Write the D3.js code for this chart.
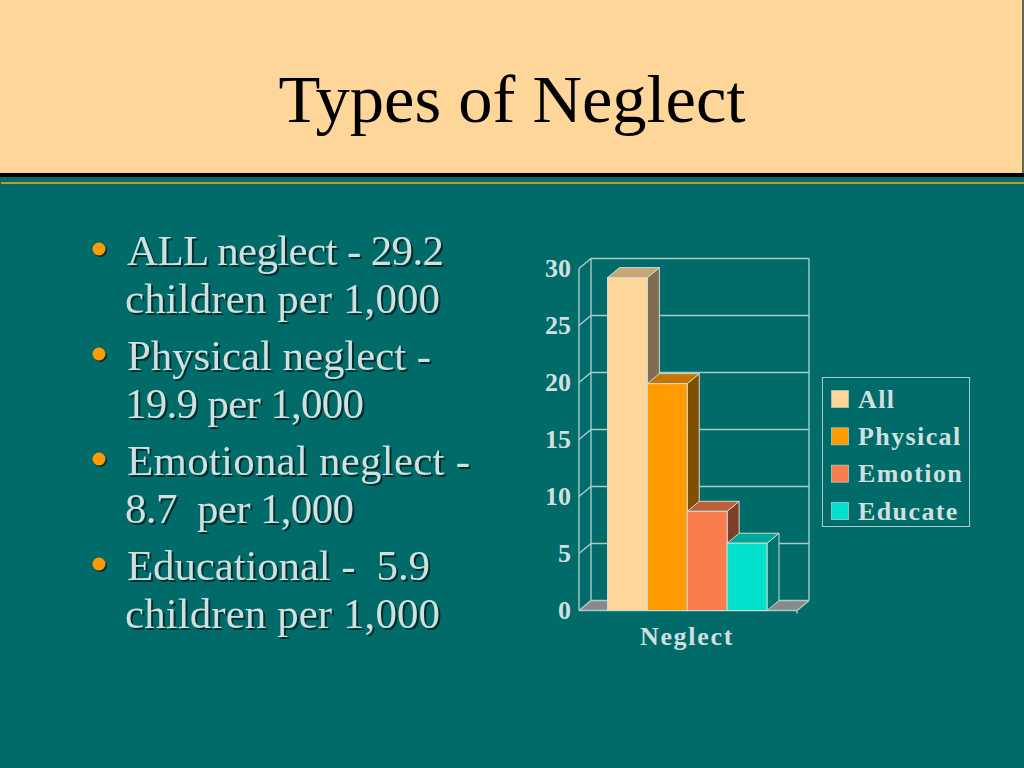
<!DOCTYPE html>
<html>
<head>
<meta charset="utf-8">
<title>Types of Neglect</title>
<script src="https://cdn.jsdelivr.net/npm/d3@7"></script>
<style>
    html, body { margin: 0; padding: 0; background: #006b68; }
    svg { display: block; }
    text { font-family: "Liberation Serif", serif; }
</style>
</head>
<body>
<svg id="slide" width="1024" height="768"></svg>
<script>
    'use strict';

    var titleText = 'Types of Neglect';
    var categories = ['All', 'Physical', 'Emotion', 'Educate'];
    var values = [29.2, 19.9, 8.7, 5.9];
    var yTicks = [0, 5, 10, 15, 20, 25, 30];
    var groupLabel = 'Neglect';
    var bullets = [
        ['ALL neglect - 29.2', 'children per 1,000'],
        ['Physical neglect -', '19.9 per 1,000'],
        ['Emotional neglect -', '8.7  per 1,000'],
        ['Educational -  5.9', 'children per 1,000']
    ];

    // the reference font is wider in places, so each bullet line gets its measured width
    var BULLET_WIDTHS = [[317, 315], [304, 239], [343, 229], [303, 315]];
    var COLORS = {
        front: ['#ffd699', '#ff9b00', '#f97c4c', '#00e0cc'],
        top: ['#c7a673', '#c47700', '#bf5f3a', '#00a896'],
        side: ['#806c4f', '#805000', '#7f3f26', '#00736a']
    };
    var GRID = '#a9cac8';
    var LABEL = '#d0dfdf';
    var DEPTH = { x: 12, y: -10 };

    var svg = d3.select('#slide');

    function renderBackground() {
        svg.append('rect').attr('width', 1024).attr('height', 768).attr('fill', '#006b68');
        svg.append('rect').attr('width', 1024).attr('height', 173).attr('fill', '#ffd699');
        svg.append('rect').attr('x', 1022).attr('width', 2).attr('height', 173).attr('fill', '#5a6a55');
        svg.append('rect').attr('y', 173).attr('width', 1024).attr('height', 4).attr('fill', '#000');
        svg.append('rect').attr('x', 1).attr('y', 182).attr('width', 1023).attr('height', 2).attr('fill', '#c49a22');
    }

    function renderTitle() {
        svg.append('text')
            .attr('x', 512)
            .attr('y', 122)
            .attr('text-anchor', 'middle')
            .attr('font-size', 68.5)
            .attr('fill', '#000')
            .text(titleText);
    }

    function renderBullets() {
        var group = svg.append('g');
        var lineY = 265;
        bullets.forEach(function (lines, i) {
            var y = lineY + i * 105;
            group.append('circle')
                .attr('cx', 100.5).attr('cy', y - 14.5).attr('r', 6.5)
                .attr('fill', '#00302e');
            group.append('circle')
                .attr('cx', 99).attr('cy', y - 16).attr('r', 6.5)
                .attr('fill', '#ff9b00');
            lines.forEach(function (line, j) {
                group.append('text')
                    .attr('x', j === 0 ? 127 : 125)
                    .attr('y', y + j * 48)
                    .attr('font-size', 43)
                    .attr('fill', LABEL)
                    .attr('textLength', BULLET_WIDTHS[i][j])
                    .attr('lengthAdjust', 'spacing')
                    .style('white-space', 'pre')
                    .style('filter', 'drop-shadow(2px 2px 0.5px #00302e)')
                    .text(line);
            });
        });
    }

    function renderChart() {
        var y = d3.scaleLinear().domain([0, 30]).range([610.5, 268.5]);
        var x = d3.scaleBand().domain(categories).range([607.5, 767]).paddingInner(0);
        var xLeft = 579;
        var xRight = 797;
        var chart = svg.append('g');

        // floor
        chart.append('path')
            .attr('d', d3.line()([
                [xLeft, y(0)], [xLeft + DEPTH.x, y(0) + DEPTH.y],
                [xRight + DEPTH.x, y(0) + DEPTH.y], [xRight, y(0)]
            ]) + 'Z')
            .attr('fill', '#8a8a8a');

        // grid: back wall plus left side wall
        chart.selectAll('.grid').data(yTicks).enter().append('path')
            .attr('d', function (d) {
                return d3.line()([
                    [xLeft, y(d)], [xLeft + DEPTH.x, y(d) + DEPTH.y], [xRight + DEPTH.x, y(d) + DEPTH.y]
                ]);
            })
            .attr('fill', 'none')
            .attr('stroke', GRID)
            .attr('stroke-width', 1.4);
        chart.append('line')
            .attr('x1', xLeft).attr('x2', xLeft).attr('y1', y(0)).attr('y2', y(30))
            .attr('stroke', GRID).attr('stroke-width', 1.4);
        chart.append('line')
            .attr('x1', xLeft + DEPTH.x).attr('x2', xLeft + DEPTH.x)
            .attr('y1', y(0) + DEPTH.y).attr('y2', y(30) + DEPTH.y)
            .attr('stroke', GRID).attr('stroke-width', 1.4);
        chart.append('line')
            .attr('x1', xRight + DEPTH.x).attr('x2', xRight + DEPTH.x)
            .attr('y1', y(0) + DEPTH.y).attr('y2', y(30) + DEPTH.y)
            .attr('stroke', GRID).attr('stroke-width', 1.4);
        chart.append('path')
            .attr('d', d3.line()([[xLeft, y(0)], [xRight, y(0)], [xRight + DEPTH.x, y(0) + DEPTH.y]]))
            .attr('fill', 'none').attr('stroke', GRID).attr('stroke-width', 1.4);
        chart.append('line')
            .attr('x1', xRight).attr('x2', xRight).attr('y1', y(0)).attr('y2', y(0) + 3)
            .attr('stroke', GRID).attr('stroke-width', 1.4);

        // each bar is drawn after the one before it, left to right
        var bars = chart.selectAll('.bar').data(values).enter().append('g')
            .attr('stroke', '#c9dcd8')
            .attr('stroke-width', 1);
        bars.each(function (d, i) {
            var bar = d3.select(this);
            var left = x(categories[i]);
            var right = left + x.bandwidth();
            var top = y(d);
            var bottom = y(0);
            bar.append('path')
                .attr('d', d3.line()([
                    [right, bottom], [right + DEPTH.x, bottom + DEPTH.y],
                    [right + DEPTH.x, top + DEPTH.y], [right, top]
                ]) + 'Z')
                .attr('fill', COLORS.side[i]);
            bar.append('path')
                .attr('d', d3.line()([
                    [left, top], [left + DEPTH.x, top + DEPTH.y],
                    [right + DEPTH.x, top + DEPTH.y], [right, top]
                ]) + 'Z')
                .attr('fill', COLORS.top[i]);
            bar.append('rect')
                .attr('x', left).attr('y', top)
                .attr('width', right - left).attr('height', bottom - top)
                .attr('fill', COLORS.front[i]);
        });

        // value axis labels
        var axis = chart.append('g')
            .attr('transform', 'translate(' + xLeft + ',0)')
            .call(d3.axisLeft(y).tickValues(yTicks).tickSize(0).tickPadding(8));
        axis.select('.domain').remove();
        axis.selectAll('text')
            .attr('font-family', '"Liberation Serif", serif')
            .attr('font-weight', 'bold')
            .attr('font-size', 26)
            .attr('fill', LABEL)
            .attr('dy', '0.3em');

        chart.append('text')
            .attr('x', (xLeft + xRight) / 2 - 1)
            .attr('y', 645)
            .attr('text-anchor', 'middle')
            .attr('font-size', 26)
            .attr('font-weight', 'bold')
            .attr('letter-spacing', 1.7)
            .attr('fill', LABEL)
            .text(groupLabel);
    }

    function renderLegend() {
        var legend = svg.append('g');
        var rowY = d3.scalePoint().domain(categories).range([399, 511]);
        legend.append('rect')
            .attr('x', 822.5).attr('y', 377.5)
            .attr('width', 147).attr('height', 149)
            .attr('fill', 'none')
            .attr('stroke', GRID)
            .attr('stroke-width', 1);
        var rows = legend.selectAll('.row').data(categories).enter().append('g')
            .attr('transform', function (d) { return 'translate(0,' + rowY(d) + ')'; });
        rows.append('rect')
            .attr('x', 831.5).attr('y', -8.5)
            .attr('width', 17).attr('height', 17)
            .attr('stroke', '#b4c8c0')
            .attr('stroke-width', 0.8)
            .attr('fill', function (d, i) { return COLORS.front[i]; });
        rows.append('text')
            .attr('x', 858)
            .attr('y', 8.5)
            .attr('font-size', 26)
            .attr('font-weight', 'bold')
            .attr('letter-spacing', 1.4)
            .attr('fill', LABEL)
            .text(function (d) { return d; });
    }

    renderBackground();
    renderTitle();
    renderBullets();
    renderChart();
    renderLegend();
</script>
</body>
</html>
